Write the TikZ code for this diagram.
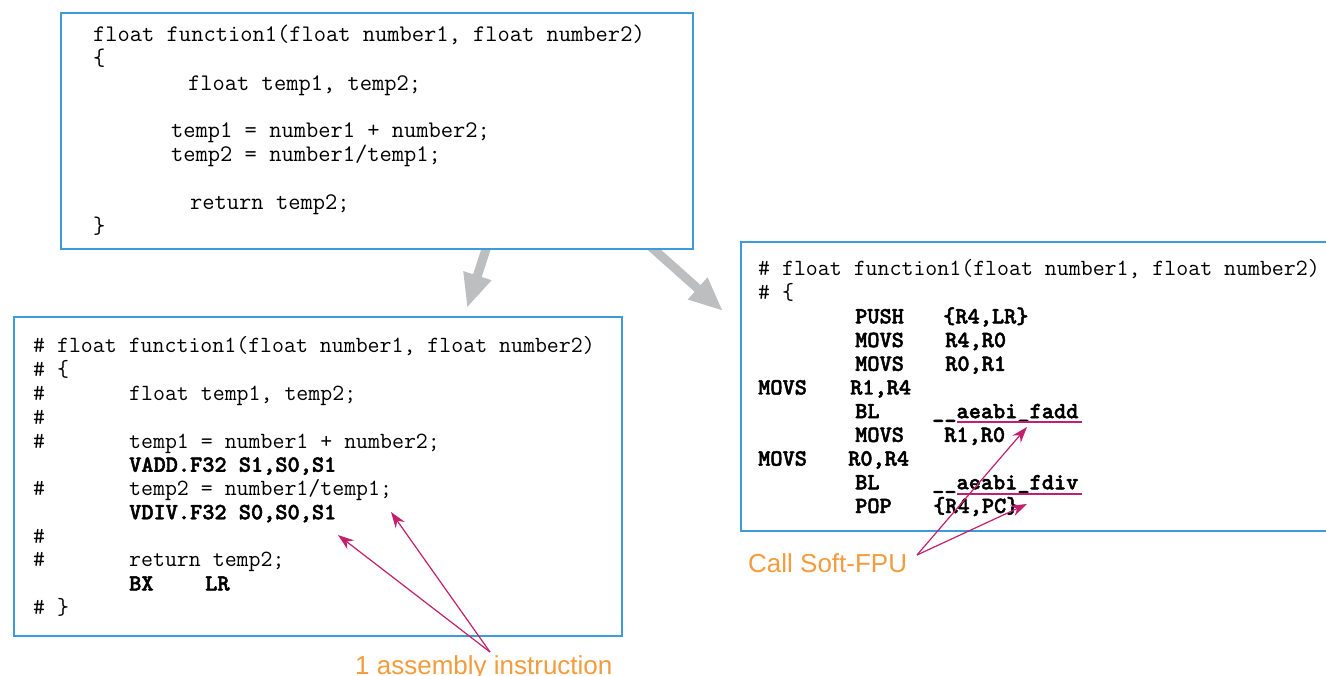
\documentclass[tikz,border=0pt]{standalone}
\usepackage{fontspec}
\setmainfont{Liberation Sans}
\newfontfamily\codebold{lmmonolt10-bold}[Extension=.otf,FakeBold=2]
\usetikzlibrary{arrows.meta}
\definecolor{boxblue}{HTML}{3C9BD8}
\definecolor{flowgrey}{HTML}{BDBEC0}
\definecolor{notemag}{HTML}{C2206C}
\definecolor{noteorange}{HTML}{F39B3D}
\begin{document}
\begin{tikzpicture}[x=1pt,y=-1pt,
  codebox/.style={draw=boxblue,line width=1.6pt,fill=white,inner sep=0pt,anchor=north west},
  code/.style={anchor=base west,inner sep=0pt,font=\fontsize{23.2}{24}\ttfamily},
  srccode/.style={anchor=base west,inner sep=0pt,font=\fontsize{23.8}{24}\ttfamily},
  codeb/.style={anchor=base west,inner sep=0pt,font=\fontsize{23.2}{24}\codebold},
  flow/.style={draw=flowgrey,line width=9pt,-{Triangle[length=34pt,width=27pt]}},
  note/.style={draw=notemag,line width=1.2pt,-{Stealth[length=16pt,width=11pt]}},
  mark line/.style={draw=notemag,line width=1.3pt},
  notetext/.style={text=noteorange,font=\fontsize{26}{30}\selectfont,inner sep=0pt,anchor=base west}]

\useasboundingbox (0,0) rectangle (1326,676);
\clip (0,0) rectangle (1326,676);

% compilation flow arrows (under the boxes)
\coordinate (f1s) at (487,246);
\coordinate (f1e) at (467,308);
\coordinate (f2s) at (650,246);
\coordinate (f2e) at (723,311);
\draw[flow] (f1s) -- (f1e);
\draw[flow] (f2s) -- (f2e);

% code boxes
\node[codebox,minimum width=632pt,minimum height=236pt] (src) at (60,12) {};
\node[codebox,minimum width=608pt,minimum height=319pt] (fpu) at (13,316) {};
\node[codebox,minimum width=640pt,minimum height=289pt] (soft) at (740,241) {};

% C source
\node[srccode] (s1) at (93,42) {float function1(float number1, float number2)};
\node[srccode] (s2) at (93,66) {\{};
\node[srccode] (s3) at (188,91) {float temp1, temp2;};
\node[srccode] (s4) at (171,138) {temp1 = number1 + number2;};
\node[srccode] (s5) at (171,162) {temp2 = number1/temp1;};
\node[srccode] (s6) at (190,210) {return temp2;};
\node[srccode] (s7) at (93,234) {\}};

% hardware FPU listing
\node[code] (h1) at (33,353) {\# float function1(float number1, float number2)};
\node[code] (h2) at (33,376.75) {\# \{};
\node[code] (h3a) at (33,400.5) {\#};
\node[code] (h3b) at (129,400.5) {float temp1, temp2;};
\node[code] (h4) at (33,424.25) {\#};
\node[code] (h5a) at (33,448) {\#};
\node[code] (h5b) at (129,448) {temp1 = number1 + number2;};
\node[codeb] (h6) at (129,471.75) {VADD.F32 S1,S0,S1};
\node[code] (h7a) at (33,495.5) {\#};
\node[code] (h7b) at (129,495.5) {temp2 = number1/temp1;};
\node[codeb] (h8) at (129,519.25) {VDIV.F32 S0,S0,S1};
\node[code] (h9) at (33,543) {\#};
\node[code] (h10a) at (33,566.75) {\#};
\node[code] (h10b) at (129,566.75) {return temp2;};
\node[codeb] (h11a) at (129,590.5) {BX};
\node[codeb] (h11b) at (205,590.5) {LR};
\node[code] (h12) at (33,614.25) {\# \}};

% soft FPU listing
\node[code] (r0) at (758,276) {\# float function1(float number1, float number2)};
\node[code] (r1) at (758,299.7) {\# \{};
\node[codeb] (r2a) at (855,323.4) {PUSH};
\node[codeb] (r2b) at (943,323.4) {\{R4,LR\}};
\node[codeb] (r3a) at (855,347.1) {MOVS};
\node[codeb] (r3b) at (945,347.1) {R4,R0};
\node[codeb] (r4a) at (855,370.8) {MOVS};
\node[codeb] (r4b) at (945,370.8) {R0,R1};
\node[codeb] (r5a) at (758,394.5) {MOVS};
\node[codeb] (r5b) at (850,394.5) {R1,R4};
\node[codeb] (r6a) at (855,418.2) {BL};
\node[codeb] (r6b) at (932,418.2) {\_\_aeabi\_fadd};
\node[codeb] (r7a) at (855,441.9) {MOVS};
\node[codeb] (r7b) at (944,441.9) {R1,R0};
\node[codeb] (r8a) at (758,465.6) {MOVS};
\node[codeb] (r8b) at (848,465.6) {R0,R4};
\node[codeb] (r9a) at (855,489.3) {BL};
\node[codeb] (r9b) at (932,489.3) {\_\_aeabi\_fdiv};
\node[codeb] (r10a) at (855,513) {POP};
\node[codeb] (r10b) at (933,513) {\{R4,PC\}};

% call markers
\coordinate (u1s) at (957,422);
\coordinate (u1e) at (1082,422);
\coordinate (u2s) at (957,494);
\coordinate (u2e) at (1082,494);
\draw[mark line] (u1s) -- (u1e);
\draw[mark line] (u2s) -- (u2e);

% annotations
\node[notetext] (one) at (355,674) {1 assembly instruction};
\node[notetext] (call) at (748,572) {Call Soft-FPU};

\coordinate (oneo) at (490,652);
\coordinate (t1) at (338,535);
\coordinate (t2) at (391,512);
\draw[note] (oneo) -- (t1);
\draw[note] (oneo) -- (t2);

\coordinate (callo) at (917,555);
\coordinate (t3) at (1027,427);
\coordinate (t4) at (1027,504);
\draw[note] (callo) -- (t3);
\draw[note] (callo) -- (t4);
\end{tikzpicture}
\end{document}
